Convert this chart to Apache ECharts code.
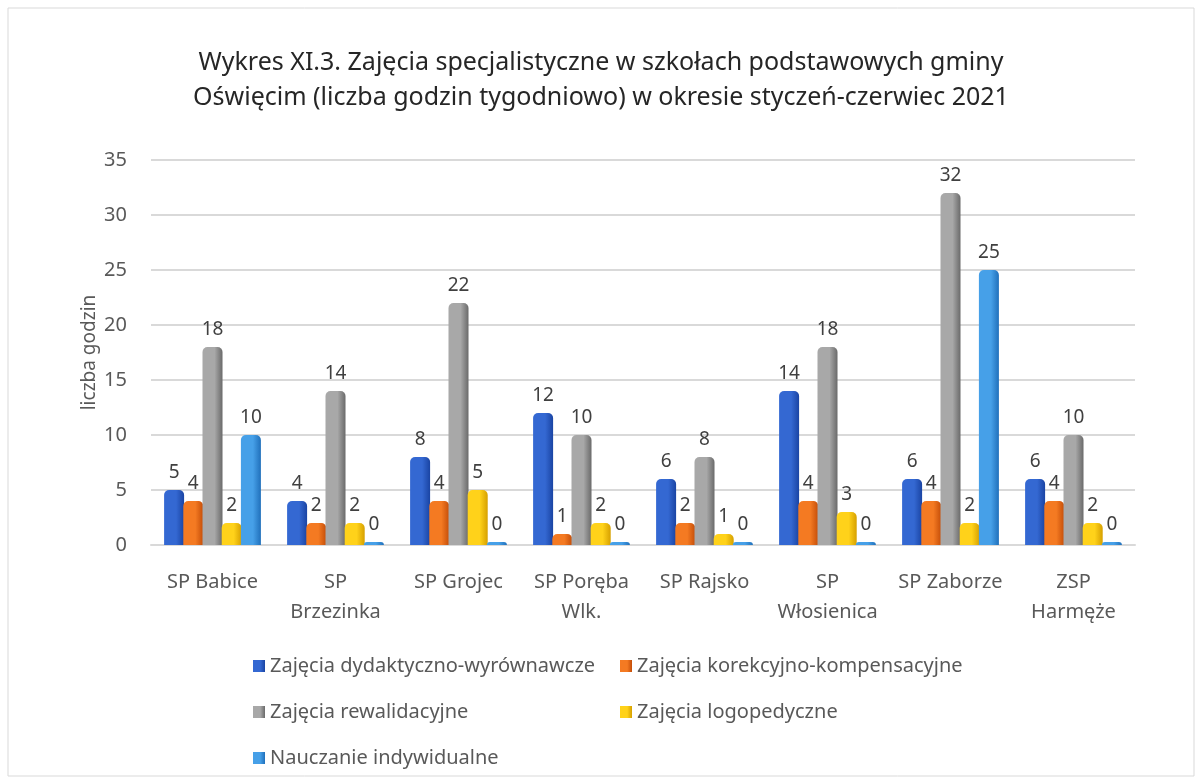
<!DOCTYPE html>
<html>
<head>
<meta charset="utf-8">
<script src="https://cdn.jsdelivr.net/npm/echarts@6/dist/echarts.min.js"></script>
<style>
  html, body { margin: 0; padding: 0; background: #fff; }
  #chart { width: 1202px; height: 784px; }
</style>
</head>
<body>
<div id="chart"></div>
<script>
// dane z wykresu
var kategorie = ['SP Babice', 'SP\nBrzezinka', 'SP Grojec', 'SP Poręba\nWlk.', 'SP Rajsko', 'SP\nWłosienica', 'SP Zaborze', 'ZSP\nHarmęże'];
var nazwySerii = ['Zajęcia dydaktyczno-wyrównawcze', 'Zajęcia korekcyjno-kompensacyjne', 'Zajęcia rewalidacyjne', 'Zajęcia logopedyczne', 'Nauczanie indywidualne'];
var dydaktyczne = [5, 4, 8, 12, 6, 14, 6, 6];
var korekcyjne = [4, 2, 4, 1, 2, 4, 4, 4];
var rewalidacyjne = [18, 14, 22, 10, 8, 18, 32, 10];
var logopedyczne = [2, 2, 5, 2, 1, 3, 2, 2];
var indywidualne = [10, 0, 0, 0, 0, 0, 25, 0];

var kolory = [
    ['#3468d2', '#1a44a3'],
    ['#f47a22', '#c44d08'],
    ['#a8a8a8', '#6a6a6a'],
    ['#ffd21a', '#d6a000'],
    ['#46a0e8', '#2070bb']
];
var czcionka = '"Noto Sans", sans-serif';

function grad(i) {
    return new echarts.graphic.LinearGradient(0, 0, 1, 0, [
        {offset: 0, color: kolory[i][0]},
        {offset: 0.6, color: kolory[i][0]},
        {offset: 1, color: kolory[i][1]}
    ]);
}

function seria(i, dane) {
    return {
        name: nazwySerii[i],
        type: 'bar',
        data: dane,
        barWidth: 20,
        barGap: '-4%',
        barMinHeight: 3,
        itemStyle: {color: grad(i), borderRadius: [5, 5, 0, 0]},
        label: {
            show: true,
            position: 'top',
            distance: 8,
            fontSize: 19,
            fontFamily: czcionka,
            color: '#404040'
        }
    };
}

var myChart = echarts.init(document.getElementById('chart'));

var option = {
    backgroundColor: '#fff',
    color: kolory.map(function (k) { return k[0]; }),
    title: {
        text: 'Wykres XI.3. Zajęcia specjalistyczne w szkołach podstawowych gminy\nOświęcim (liczba godzin tygodniowo) w okresie styczeń-czerwiec 2021',
        left: 'center',
        top: 40,
        textStyle: {
            fontFamily: czcionka,
            fontSize: 25,
            fontWeight: 'normal',
            color: '#262626',
            lineHeight: 35
        }
    },
    legend: [
        {
            orient: 'vertical',
            left: 248,
            top: 651,
            itemWidth: 12,
            itemHeight: 12,
            itemGap: 26,
            icon: 'rect',
            data: [nazwySerii[0], nazwySerii[2], nazwySerii[4]],
            textStyle: {fontFamily: czcionka, fontSize: 20, color: '#595959'}
        },
        {
            orient: 'vertical',
            left: 615,
            top: 651,
            itemWidth: 12,
            itemHeight: 12,
            itemGap: 26,
            icon: 'rect',
            data: [nazwySerii[1], nazwySerii[3]],
            textStyle: {fontFamily: czcionka, fontSize: 20, color: '#595959'}
        }
    ],
    grid: {
        left: 151,
        right: 67,
        top: 160,
        bottom: 239
    },
    xAxis: {
        type: 'category',
        data: kategorie,
        axisLine: {show: true, lineStyle: {color: '#d9d9d9', width: 2}},
        axisTick: {show: false},
        axisLabel: {
            interval: 0,
            fontFamily: czcionka,
            fontSize: 20,
            color: '#595959',
            margin: 22,
            lineHeight: 30
        }
    },
    yAxis: {
        type: 'value',
        min: 0,
        max: 35,
        interval: 5,
        name: 'liczba godzin',
        nameLocation: 'middle',
        nameGap: 52,
        nameMoveOverlap: false,
        nameTextStyle: {fontFamily: czcionka, fontSize: 19, color: '#595959'},
        axisLine: {show: false},
        axisTick: {show: false},
        axisLabel: {fontFamily: czcionka, fontSize: 20, color: '#595959', margin: 24},
        splitLine: {lineStyle: {color: '#d9d9d9', width: 2}}
    },
    graphic: [{
        type: 'rect',
        shape: {x: 8, y: 8, width: 1186, height: 768},
        style: {fill: 'none', stroke: '#d9d9d9', lineWidth: 1},
        silent: true
    }],
    series: [
        seria(0, dydaktyczne),
        seria(1, korekcyjne),
        seria(2, rewalidacyjne),
        seria(3, logopedyczne),
        seria(4, indywidualne)
    ]
};

myChart.setOption(option);
</script>
</body>
</html>
